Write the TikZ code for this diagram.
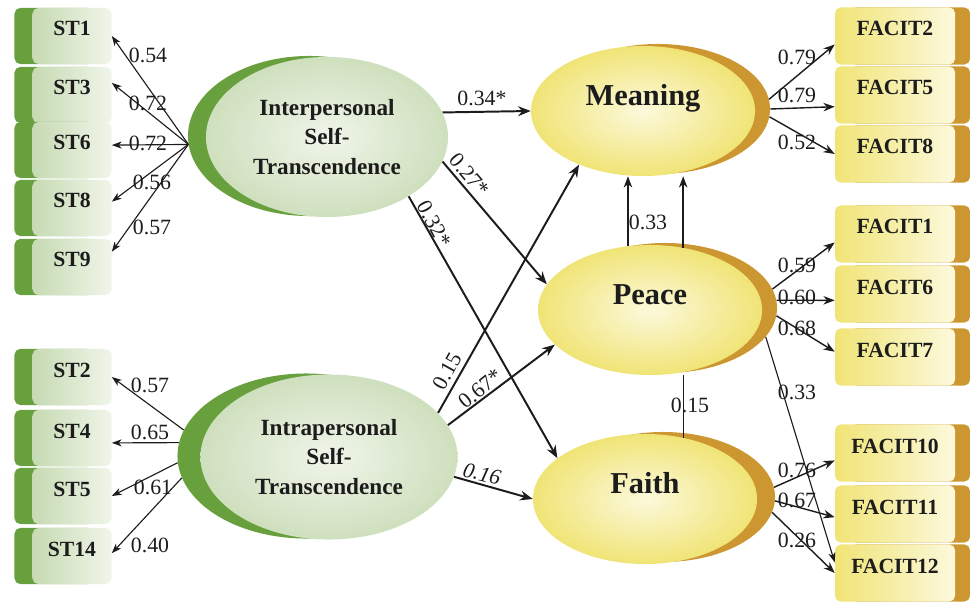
\documentclass[tikz,border=0pt]{standalone}
\usepackage{fontspec}
\setmainfont{Liberation Serif}
\usetikzlibrary{shapes.geometric,arrows.meta}
\pgfdeclarelayer{background}
\pgfdeclarelayer{foreground}
\pgfsetlayers{background,main,foreground}
\definecolor{stdark}{RGB}{104,160,62}
\definecolor{stlight}{RGB}{240,245,234}
\definecolor{stmid}{RGB}{198,218,178}
\definecolor{fcdark}{RGB}{204,150,48}
\definecolor{fclight}{RGB}{252,249,220}
\definecolor{fcmid}{RGB}{240,228,118}
\definecolor{ink}{RGB}{28,28,28}
\tikzset{
  stbox/.style={rectangle, rounded corners=4pt, minimum width=1.975cm, minimum height=1.4cm,
    left color=stmid, right color=stlight, text=ink, text height=10pt, text depth=10pt,
    font=\fontsize{15.4}{18}\selectfont\bfseries,
    preaction={fill=stdark, transform canvas={xshift=-0.45cm}}},
  fcbox/.style={rectangle, rounded corners=4pt, minimum width=3cm, minimum height=1.425cm,
    left color=fcmid, right color=fclight, text=ink, text height=10pt, text depth=10pt,
    font=\fontsize{15.4}{18}\selectfont\bfseries,
    preaction={fill=fcdark, transform canvas={xshift=0.375cm}}},
  stback/.style={ellipse, inner sep=0pt, fill=stdark, minimum width=6.05cm, minimum height=4cm},
  stoval/.style={ellipse, inner sep=0pt, inner color=stlight, outer color=stmid!85,
    minimum width=6.05cm, minimum height=4cm, align=center, text=ink,
    font=\fontsize{16.5}{21}\selectfont\bfseries},
  fcback/.style={ellipse, inner sep=0pt, fill=fcdark, minimum width=5.6cm, minimum height=3.25cm},
  fcoval/.style={ellipse, inner sep=0pt, inner color=fclight, outer color=fcmid,
    minimum width=5.6cm, minimum height=3.25cm, text=ink, text height=16pt, text depth=24pt,
    font=\fontsize{21.6}{24}\selectfont\bfseries},
  num/.style={inner sep=1pt, text=ink, font=\fontsize{15.5}{18}\selectfont},
  thinarr/.style={draw=ink, line width=0.8pt, -{Stealth[length=7pt,width=5pt,inset=2pt]}},
  medarr/.style={draw=ink, line width=1pt, -{Stealth[length=8pt,width=6pt,inset=2.5pt]}},
  boldarr/.style={draw=ink, line width=1.4pt, -{Stealth[length=9pt,width=7pt,inset=3pt]}}
}
\begin{document}
\begin{tikzpicture}[x=0.025cm,y=-0.025cm]
\useasboundingbox (0,0) rectangle (970,602);

\begin{pgfonlayer}{background}
\node[stback] (interD) at (309,136) {};
\node[stback, minimum width=6.425cm, minimum height=4.125cm] (intraD) at (306,456) {};
\node[fcback] (meaningD) at (658,109) {};
\node[fcback] (peaceD) at (665,308) {};
\node[fcback] (faithD) at (663,497) {};
\end{pgfonlayer}

\node[stoval] (inter) at (327,137) {Interpersonal\\Self-\\Transcendence};
\node[stoval, minimum width=6.425cm, minimum height=4.125cm] (intra) at (329,457) {Intrapersonal\\Self-\\Transcendence};
\node[fcoval] (meaning) at (643,111) {Meaning};
\node[fcoval] (peace) at (650,310) {Peace};
\node[fcoval] (faith) at (645,499) {Faith};

\foreach \nm/\y in {ST1/36,ST3/95,ST6/150,ST8/208,ST9/267,ST2/377,ST4/438,ST5/496,ST14/556}
  \node[stbox] (\nm) at (72,\y) {\nm};
\foreach \nm/\y in {FACIT2/36,FACIT5/95,FACIT8/154,FACIT1/234,FACIT6/294,FACIT7/357,FACIT10/453,FACIT11/514,FACIT12/573}
  \node[fcbox] (\nm) at (895,\y) {\nm};

\foreach \t in {ST1.east,ST3.17,ST6.7,ST8.9,ST9.21}
  \draw[thinarr] (interD.184) -- (\t);
\draw[thinarr] (intraD.168) -- (ST2.east);
\draw[thinarr] (intraD.174) -- (ST4.-7);
\draw[thinarr] (intraD.183) -- (ST5.east);
\draw[thinarr] (intraD.190) -- (ST14.4);

\draw[boldarr] (inter.12) -- (meaning.west);
\draw[boldarr] (inter.-12) -- (peace.166);
\draw[boldarr] (inter.-36) -- (faith.155);
\draw[boldarr] (intra.22) -- (meaning.220);
\draw[boldarr] (intra.15) -- (peace.200);
\draw[boldarr] (intra.-9) -- (faith.west);
\draw[medarr] (peace.109) -- (peace.109 |- meaning.south);
\draw[medarr] (peace.62) -- (peace.62 |- meaning.south);
\draw[draw=ink, line width=1pt] (faith.58) -- (faith.58 |- peace.south);

\draw[medarr] (meaningD.5) -- (FACIT2.188);
\draw[medarr] (meaningD.0) -- (FACIT5.191);
\draw[medarr] (meaningD.-4) -- (FACIT8.west);
\draw[medarr] (peaceD.10) -- (FACIT1.188);
\draw[medarr] (peaceD.4) -- (FACIT6.186);
\draw[medarr] (peaceD.-4) -- (FACIT7.175);
\draw[thinarr] (peaceD.-16) -- (FACIT12.170);
\draw[medarr] (faithD.5) -- (FACIT10.187);
\draw[medarr] (faithD.-2) -- (FACIT11.183);
\draw[medarr] (faithD.-8) -- (FACIT12.west);

\foreach \nm/\x/\y/\v in {a1/148/55/0.54, a3/148/103/0.72, a6/148/143/0.72, a8/152/182/0.56, a9/152/227/0.57,
    a2/150/385/0.57, a4/150/432/0.65, a5/153/487/0.61, a14/150/545/0.40,
    b2/797/57/0.79, b5/797/95/0.79, b8/797/142/0.52, b1/797/265/0.59, b6/797/297/0.60, b7/797/328/0.68,
    b12p/797/392/0.33, b10/797/470/0.76, b11/797/500/0.67, b12/797/540/0.26}
  \node[num] (\nm) at (\x,\y) {\v};
\node[num] (im) at (482,98) {0.34*};
\node[num, rotate=-50] (ip) at (469,175) {0.27*};
\node[num, rotate=-62] (if) at (434,224) {0.32*};
\node[num, rotate=61] (jm) at (447,371) {0.15};
\node[num, rotate=39] (jp) at (480,389) {0.67*};
\node[num, rotate=-14, font=\fontsize{15.5}{18}\selectfont\itshape] (jf) at (482,474) {0.16};
\node[num] (pm) at (648,222) {0.33};
\node[num] (fp) at (690,405) {0.15};
\end{tikzpicture}
\end{document}
